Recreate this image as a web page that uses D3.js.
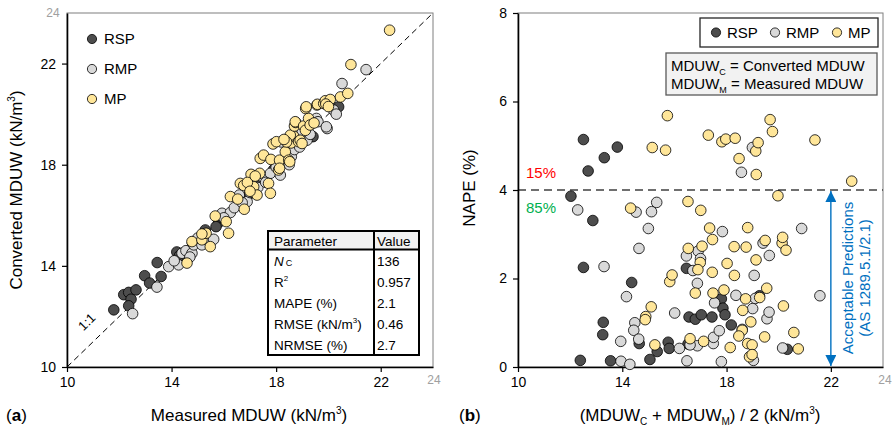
<!DOCTYPE html>
<meta charset="utf-8">
<style>
body{ margin:0; background:#fff; }
svg text{ font-family:"Liberation Sans", Arial, sans-serif; }
</style>
<body>
<svg id="chart" width="894" height="431"></svg>
<script src="https://cdn.jsdelivr.net/npm/d3@7"></script>
<script>
// panel (a): [measured, converted]
var rspA = [[11.79,12.26],[12.17,12.86],[12.36,12.95],[12.45,12.68],[12.36,12.42],[12.64,13.05],[12.97,13.61],[13.16,13.32],[13.45,14.13],[13.60,13.58],[14.2,14.55],[14.3,14.4],[15.29,15.42],[15.25,15.1],[15.80,15.71],[15.7,15.55],[15.95,15.9],[16.6,16.4],[16.9,16.75],[17.1,17.0],[17.4,17.3],[17.6,17.5],[17.9,17.8],[18.2,18.1],[18.5,18.4],[19.41,19.11],[19.2,19.4],[20.39,20.29],[14.8,14.9]];
var rmpA = [[12.51,12.11],[13.44,13.16],[13.89,13.97],[14.27,14.04],[14.40,14.50],[14.55,14.6],[14.78,14.5],[14.85,14.83],[14.7,14.35],[15.16,14.83],[15.40,15.0],[15.61,15.05],[15.93,16.08],[16.25,16.11],[16.4,16.3],[16.59,16.80],[16.89,16.54],[16.7,16.5],[17.0,16.9],[17.3,17.1],[17.5,17.5],[17.78,17.66],[18.16,17.59],[18.0,17.9],[18.3,18.2],[18.58,18.32],[18.7,18.6],[18.2,18.9],[18.9,18.7],[19.18,18.97],[19.3,19.2],[19.54,19.83],[19.6,19.7],[19.95,19.43],[19.92,19.50],[20.2,20.16],[20.3,20.0],[20.52,21.21],[21.44,21.76],[14.1,14.2],[15.0,15.1],[16.0,15.9],[17.6,17.3],[18.5,18.0],[19.0,19.3]];
var mpA = [[14.59,14.11],[14.78,14.96],[15.16,15.03],[15.32,15.29],[15.48,14.76],[15.16,15.26],[15.67,15.97],[16.09,15.75],[16.18,15.29],[16.25,16.74],[16.53,16.64],[16.63,17.26],[16.78,16.24],[16.76,17.18],[17.04,17.62],[17.14,17.13],[17.27,16.80],[17.37,17.66],[17.39,18.25],[17.52,18.38],[17.71,17.26],[17.78,16.87],[17.80,18.21],[17.88,18.82],[18.01,18.91],[18.13,18.18],[18.09,17.79],[18.13,17.86],[18.35,18.51],[18.48,18.18],[18.52,18.12],[18.57,18.86],[18.67,19.13],[18.54,19.17],[18.70,19.53],[18.75,19.67],[18.73,19.70],[18.86,18.91],[18.92,18.97],[18.99,18.84],[19.05,19.53],[19.12,19.36],[19.13,20.22],[19.15,20.29],[19.24,19.83],[19.30,19.57],[19.45,19.65],[19.56,20.36],[19.58,20.39],[19.82,20.42],[19.88,20.53],[20.07,20.58],[20.46,20.68],[20.74,20.82],[20.86,21.96],[22.34,23.32],[16.9,17.3],[17.2,17.55],[17.0,16.95],[18.4,18.9],[19.9,20.4],[20.0,20.3],[18.3,19.0]];

// panel (b): [mean MDUW, NAPE %]
var rspB = [[12.51,5.14],[13.81,4.97],[13.31,4.73],[12.69,4.43],[12.03,3.86],[12.87,3.31],[12.51,2.25],[14.36,1.91],[13.27,1.01],[13.25,0.73],[12.39,0.15],[13.55,0.14],[15.06,0.17],[15.34,0.35],[14.65,0.53],[15.76,0.56],[15.80,0.42],[16.46,2.23],[16.56,1.13],[16.80,1.08],[17.03,1.18],[17.44,1.13],[17.80,1.54],[17.86,1.33],[17.94,1.18],[18.18,0.95],[19.26,1.61],[16.52,0.52],[20.33,0.40]];
var rmpB = [[12.29,3.55],[13.30,2.27],[14.16,1.59],[13.94,0.58],[13.95,0.13],[14.29,0.06],[14.48,1.00],[14.44,0.83],[14.63,0.63],[14.53,3.50],[14.64,2.68],[15.00,3.13],[15.12,3.51],[15.32,3.72],[16.01,1.22],[16.19,0.42],[16.48,0.14],[16.46,2.51],[16.71,2.18],[16.91,2.62],[16.88,1.89],[16.88,0.48],[17.49,0.53],[17.54,1.45],[17.50,0.67],[17.72,0.82],[17.80,0.12],[17.84,3.06],[18.36,1.62],[18.57,4.40],[19.00,1.32],[19.03,0.15],[19.06,2.07],[18.99,4.96],[19.40,2.80],[19.55,1.09],[19.63,1.24],[19.64,2.52],[20.15,0.43],[20.88,3.13],[21.58,1.61],[16.6,0.50],[18.6,0.85],[17.0,2.45],[19.1,1.55]];
var mpB = [[15.73,5.68],[15.15,4.96],[15.66,4.90],[17.30,5.24],[17.82,5.09],[17.97,5.15],[18.33,5.17],[18.48,4.71],[19.12,4.88],[19.21,5.07],[19.14,4.35],[19.67,5.59],[19.76,5.32],[21.39,5.13],[22.80,4.20],[19.97,3.87],[14.32,3.59],[16.52,3.74],[17.01,3.54],[17.35,3.14],[17.46,2.88],[16.53,2.68],[17.06,2.73],[16.99,2.36],[16.90,2.20],[18.29,2.72],[18.75,2.71],[18.81,3.15],[18.02,2.34],[18.30,2.07],[19.48,2.86],[20.13,2.80],[20.15,2.93],[20.28,2.64],[19.13,2.42],[15.82,1.93],[15.91,2.08],[16.80,1.67],[17.45,2.14],[17.48,1.67],[17.90,1.74],[18.73,1.54],[19.27,1.57],[19.54,1.78],[20.18,1.38],[18.62,1.28],[18.93,1.02],[18.60,0.83],[18.47,0.70],[18.81,0.53],[18.98,0.50],[18.88,0.23],[18.98,0.28],[19.46,0.68],[18.14,0.44],[20.58,0.78],[20.75,0.41],[16.60,0.64],[17.12,0.58],[15.25,0.50],[14.90,1.14],[15.11,1.36],[14.88,1.07]];

var seriesNames = ["RSP", "RMP", "MP"];
var seriesColors = ["#4d4d4d", "#d9d9d9", "#ffe699"];
var ticksA = [10, 14, 18, 22];
var ticksBy = [0, 2, 4, 6, 8];
var tableValues = ["136", "0.957", "2.1", "0.46", "2.7"];
var napeLimit = 4;
</script>

<script>
var svg = d3.select("#chart");
var r = 5.3;

// ---------- panel (a) ----------
var xa = d3.scaleLinear().domain([10, 24]).range([67, 433]);
var ya = d3.scaleLinear().domain([10, 24]).range([367, 13]);
var ga = svg.append("g");

// frame
ga.append("rect").attr("x", xa(10)).attr("y", ya(24))
  .attr("width", xa(24) - xa(10)).attr("height", ya(10) - ya(24))
  .attr("fill", "none").attr("stroke", "#7f7f7f").attr("stroke-width", 1);

// 1:1 line
ga.append("line").attr("x1", xa(10)).attr("y1", ya(10)).attr("x2", xa(24)).attr("y2", ya(24))
  .attr("stroke", "#000").attr("stroke-width", 1).attr("stroke-dasharray", "6,4");

function drawAxes(g, x, y, xt, yt) {
  var ax = g.append("g").attr("transform", "translate(0," + y.range()[0] + ")")
    .call(d3.axisBottom(x).tickValues(xt).tickSize(5).tickSizeOuter(0).tickPadding(5));
  var ay = g.append("g").attr("transform", "translate(" + x.range()[0] + ",0)")
    .call(d3.axisLeft(y).tickValues(yt).tickSize(5).tickSizeOuter(0).tickPadding(6));
  [ax, ay].forEach(function (a) {
    a.select(".domain").attr("stroke", "#000").attr("stroke-width", 1.6);
    a.selectAll(".tick line").attr("stroke", "#000").attr("stroke-width", 1.2);
    a.selectAll("text").attr("font-size", 14).attr("fill", "#000")
      .attr("font-family", "Liberation Sans, Arial, sans-serif");
  });
}
drawAxes(ga, xa, ya, ticksA, ticksA);

ga.append("text").attr("x", 53).attr("y", ya(24) + 4).attr("text-anchor", "middle")
  .attr("font-size", 12).attr("fill", "#a0a0a0").text("24");
ga.append("text").attr("x", xa(24) + 1).attr("y", 384).attr("text-anchor", "middle")
  .attr("font-size", 12).attr("fill", "#a0a0a0").text("24");

ga.append("text").attr("transform", "translate(90,325) rotate(-45)")
  .attr("text-anchor", "middle").attr("font-size", 13).text("1:1");

function drawPoints(g, x, y, data, col) {
  g.append("g").selectAll("circle").data(data).enter().append("circle")
    .attr("cx", function (d) { return x(d[0]); })
    .attr("cy", function (d) { return y(d[1]); })
    .attr("r", r).attr("fill", col).attr("stroke", "#000").attr("stroke-width", 0.8);
}
[rspA, rmpA, mpA].forEach(function (d, i) { drawPoints(ga, xa, ya, d, seriesColors[i]); });

// legend (a)
seriesNames.forEach(function (n, i) {
  ga.append("circle").attr("cx", 92).attr("cy", 39 + i * 30).attr("r", 4.6)
    .attr("fill", seriesColors[i]).attr("stroke", "#000").attr("stroke-width", 0.8);
  ga.append("text").attr("x", 104).attr("y", 44 + i * 30).attr("font-size", 15).text(n);
});

// stats table
var tx0 = 268, tx1 = 374, tx2 = 419, ty0 = 231, ty1 = 249.5, rowH = 21;
ga.append("rect").attr("x", tx0).attr("y", ty0).attr("width", tx2 - tx0).attr("height", ty1 - ty0).attr("fill", "#f2f2f2");
ga.append("rect").attr("x", tx0).attr("y", ty1).attr("width", tx2 - tx0).attr("height", 105.5).attr("fill", "#fff");
ga.append("rect").attr("x", tx0).attr("y", ty0).attr("width", tx2 - tx0).attr("height", 124)
  .attr("fill", "none").attr("stroke", "#000").attr("stroke-width", 2);
ga.append("line").attr("x1", tx0).attr("x2", tx2).attr("y1", ty1).attr("y2", ty1).attr("stroke", "#000").attr("stroke-width", 2);
ga.append("line").attr("x1", tx1).attr("x2", tx1).attr("y1", ty0).attr("y2", ty0 + 124).attr("stroke", "#000").attr("stroke-width", 2);
ga.append("text").attr("x", tx0 + 6).attr("y", ty0 + 14.5).attr("font-size", 13.5).text("Parameter");
ga.append("text").attr("x", tx1 + 3).attr("y", ty0 + 14.5).attr("font-size", 13.5).text("Value");
tableValues.forEach(function (v, i) {
  var yy = 266 + i * rowH;
  var t = ga.append("text").attr("x", tx0 + 6).attr("y", yy).attr("font-size", 13.5);
  if (i == 0) {
    t.append("tspan").attr("font-style", "italic").text("N");
    t.append("tspan").attr("font-size", 9).attr("dx", 2).text("C");
  } else if (i == 1) {
    t.append("tspan").text("R");
    t.append("tspan").attr("font-size", 8).attr("dy", -6).text("2");
  } else if (i == 2) {
    t.text("MAPE (%)");
  } else if (i == 3) {
    t.append("tspan").text("RMSE (kN/m");
    t.append("tspan").attr("font-size", 8).attr("dy", -6).text("3");
    t.append("tspan").attr("dy", 6).text(")");
  } else {
    t.text("NRMSE (%)");
  }
  ga.append("text").attr("x", tx1 + 3).attr("y", yy).attr("font-size", 13.5).text(v);
});

// axis titles (a)
var yt = ga.append("text").attr("transform", "translate(22,190) rotate(-90)")
  .attr("text-anchor", "middle").attr("font-size", 17);
yt.append("tspan").text("Converted MDUW (kN/m");
yt.append("tspan").attr("font-size", 10).attr("dy", -7).text("3");
yt.append("tspan").attr("dy", 7).text(")");

var xt = ga.append("text").attr("x", 249).attr("y", 421)
  .attr("text-anchor", "middle").attr("font-size", 17);
xt.append("tspan").text("Measured MDUW (kN/m");
xt.append("tspan").attr("font-size", 10).attr("dy", -7).text("3");
xt.append("tspan").attr("dy", 7).text(")");

var la = ga.append("text").attr("x", 6).attr("y", 421).attr("font-size", 17);
la.append("tspan").text("(");
la.append("tspan").attr("font-weight", "bold").text("a");
la.append("tspan").text(")");

// ---------- panel (b) ----------
var xb = d3.scaleLinear().domain([10, 24]).range([518, 883]);
var yb = d3.scaleLinear().domain([0, 8]).range([367, 13]);
var gb = svg.append("g");

gb.append("rect").attr("x", xb(10)).attr("y", yb(8))
  .attr("width", xb(24) - xb(10)).attr("height", yb(0) - yb(8))
  .attr("fill", "none").attr("stroke", "#7f7f7f").attr("stroke-width", 1);

gb.append("line").attr("x1", xb(10)).attr("x2", xb(24)).attr("y1", yb(napeLimit)).attr("y2", yb(napeLimit))
  .attr("stroke", "#404040").attr("stroke-width", 1.3).attr("stroke-dasharray", "8,5");

drawAxes(gb, xb, yb, ticksA, ticksBy);
gb.append("text").attr("x", xb(24) + 2).attr("y", 384).attr("text-anchor", "middle")
  .attr("font-size", 12).attr("fill", "#a0a0a0").text("24");

[rspB, rmpB, mpB].forEach(function (d, i) { drawPoints(gb, xb, yb, d, seriesColors[i]); });

gb.append("text").attr("x", 526).attr("y", 178).attr("font-size", 15).attr("fill", "#ff0000").text("15%");
gb.append("text").attr("x", 526).attr("y", 213).attr("font-size", 15).attr("fill", "#00b050").text("85%");

// arrow
var defs = svg.append("defs");
defs.append("marker").attr("id", "ah").attr("viewBox", "0 0 10 10").attr("refX", 10).attr("refY", 5)
  .attr("markerWidth", 8).attr("markerHeight", 8).attr("orient", "auto-start-reverse")
  .append("path").attr("d", "M0,0L10,5L0,10z").attr("fill", "#0070c0");
gb.append("line").attr("x1", xb(22)).attr("x2", xb(22)).attr("y1", yb(napeLimit) + 1).attr("y2", yb(0) - 1)
  .attr("stroke", "#0070c0").attr("stroke-width", 1.4)
  .attr("marker-start", "url(#ah)").attr("marker-end", "url(#ah)");
gb.append("text").attr("transform", "translate(853,278) rotate(-90)").attr("text-anchor", "middle")
  .attr("font-size", 15).attr("fill", "#0070c0").text("Acceptable Predictions");
gb.append("text").attr("transform", "translate(870,278) rotate(-90)").attr("text-anchor", "middle")
  .attr("font-size", 15).attr("fill", "#0070c0").text("(AS 1289.5.1/2.1)");

// legend (b)
gb.append("rect").attr("x", 700).attr("y", 18).attr("width", 178).attr("height", 29)
  .attr("fill", "#fff").attr("stroke", "#262626").attr("stroke-width", 1.3);
var lx = [716, 775, 837];
seriesNames.forEach(function (n, i) {
  gb.append("circle").attr("cx", lx[i]).attr("cy", 32.5).attr("r", 4.6)
    .attr("fill", seriesColors[i]).attr("stroke", "#000").attr("stroke-width", 0.8);
  gb.append("text").attr("x", lx[i] + 11).attr("y", 38).attr("font-size", 15).text(n);
});

gb.append("rect").attr("x", 666).attr("y", 53).attr("width", 211).attr("height", 42)
  .attr("fill", "#f2f2f2").attr("stroke", "#595959").attr("stroke-width", 1.3);
[["C", " = Converted MDUW"], ["M", " = Measured MDUW"]].forEach(function (p, i) {
  var t = gb.append("text").attr("x", 671).attr("y", 71 + i * 18).attr("font-size", 15);
  t.append("tspan").text("MDUW");
  t.append("tspan").attr("font-size", 9).attr("dy", 4).text(p[0]);
  t.append("tspan").attr("dy", -4).text(p[1]);
});

gb.append("text").attr("transform", "translate(475,188) rotate(-90)")
  .attr("text-anchor", "middle").attr("font-size", 17).text("NAPE (%)");

var xbt = gb.append("text").attr("x", 700).attr("y", 421).attr("text-anchor", "middle").attr("font-size", 17);
xbt.append("tspan").text("(MDUW");
xbt.append("tspan").attr("font-size", 10).attr("dy", 4).text("C");
xbt.append("tspan").attr("dy", -4).text(" + MDUW");
xbt.append("tspan").attr("font-size", 10).attr("dy", 4).text("M");
xbt.append("tspan").attr("dy", -4).text(") / 2 (kN/m");
xbt.append("tspan").attr("font-size", 10).attr("dy", -7).text("3");
xbt.append("tspan").attr("dy", 7).text(")");

var lb = gb.append("text").attr("x", 459).attr("y", 421).attr("font-size", 17);
lb.append("tspan").text("(");
lb.append("tspan").attr("font-weight", "bold").text("b");
lb.append("tspan").text(")");
</script>
</body>
</html>
